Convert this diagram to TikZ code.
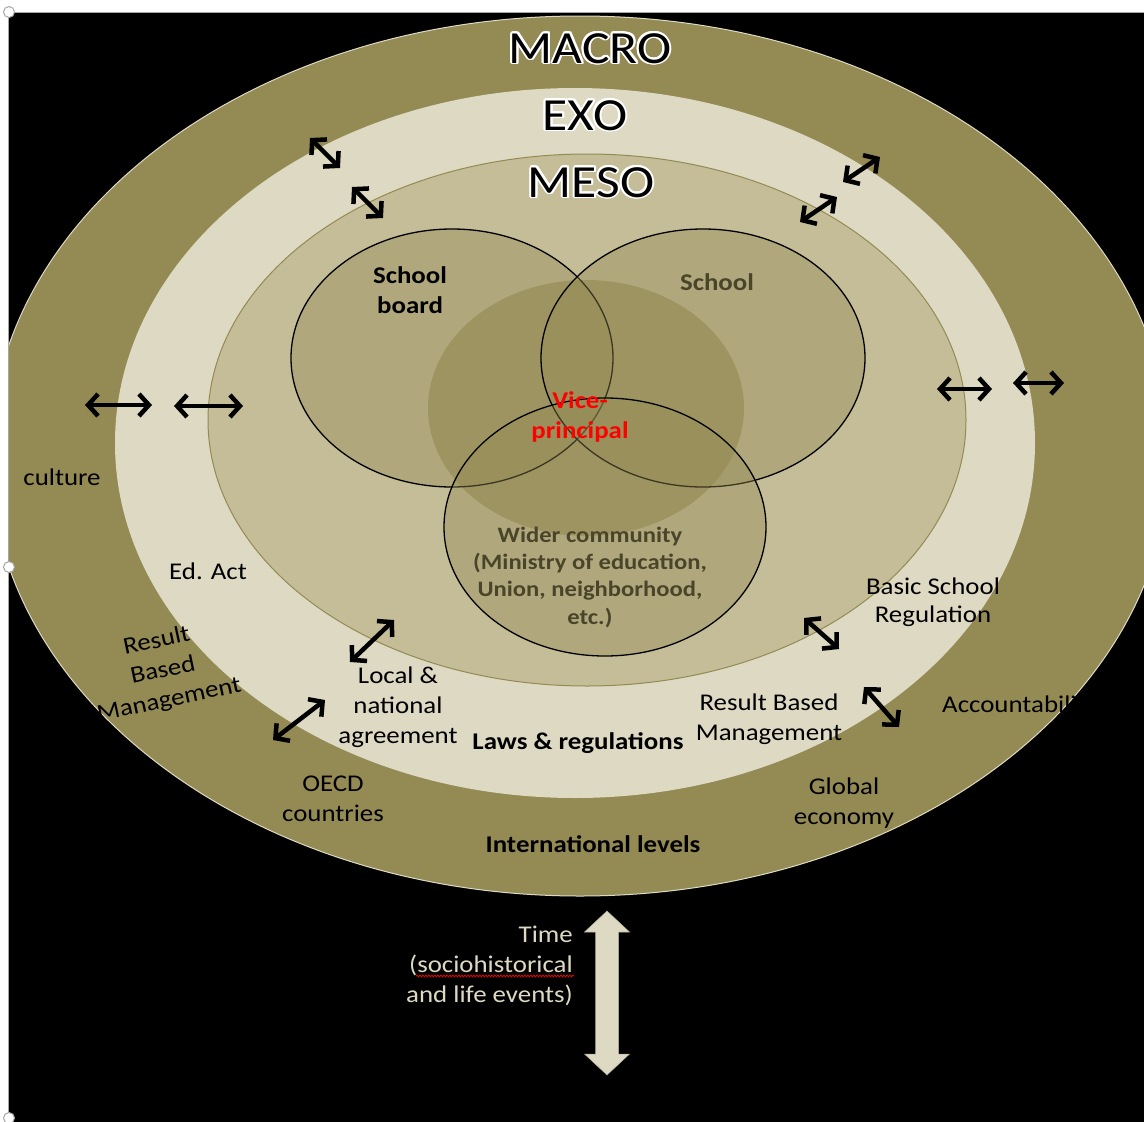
\documentclass[tikz,border=0pt]{standalone}
\usepackage{fontspec}
\setmainfont{Carlito}[FakeStretch=1.12]
\usetikzlibrary{arrows.meta,decorations.pathmorphing}

\definecolor{macroc}{HTML}{948A54}
\definecolor{exoc}{HTML}{DDD9C3}
\definecolor{mesoc}{HTML}{C4BD97}
\definecolor{discc}{HTML}{A59C6B}
\definecolor{mutedtext}{HTML}{4A452A}
\definecolor{vpred}{HTML}{FF0000}
\definecolor{framegray}{HTML}{A6A6A6}

% black letters with a white halo around them
\newcommand\halotext[1]{%
  \foreach \ang in {0,22.5,...,337.5}{%
    \pgfmathsetlengthmacro\hx{1.9pt*cos(\ang)}%
    \pgfmathsetlengthmacro\hy{1.9pt*sin(\ang)}%
    \rlap{\hspace*{\hx}\raisebox{\hy}{\textcolor{white}{#1}}}}%
  #1}

\begin{document}
\begin{tikzpicture}[x=1pt,y=-1pt,
  lbl/.style={font=\fontsize{24}{30}\selectfont, align=center, inner sep=0pt, anchor=base},
  boldlbl/.style={lbl, font=\fontsize{24}{30}\selectfont\bfseries},
  title/.style={font=\fontsize{46}{50}\selectfont, inner sep=0pt, anchor=base},
  link/.style={line width=4.5pt,
    {Straight Barb[length=10pt,width=22pt]}-{Straight Barb[length=10pt,width=22pt]}},
  venn/.style={fill=macroc, fill opacity=0.4, draw=black, draw opacity=1, line width=1.3pt},
]
\useasboundingbox (0,0) rectangle (1144,1122);
\fill[white] (0,0) rectangle (1144,1122);
\fill[black] (9,13) rectangle (1144,1122);

\begin{scope}
\clip (9,13) rectangle (1144,1122);

% system levels
\fill[macroc] (580,456) ellipse [x radius=590, y radius=440];
\draw[exoc, line width=1pt] (580,456) ellipse [x radius=590, y radius=440];
\fill[exoc] (575,443) ellipse [x radius=460, y radius=355];
\fill[mesoc] (587,420) ellipse [x radius=379, y radius=266];
\draw[macroc, line width=1pt] (587,420) ellipse [x radius=379, y radius=266];

% microsystem core and overlapping circles
\fill[discc] (586,408) ellipse [x radius=158, y radius=128];
\path[venn] (452,358) ellipse [x radius=161, y radius=129];
\path[venn] (703,358) ellipse [x radius=162, y radius=129];
\path[venn] (605,527) ellipse [x radius=161, y radius=129];

% level titles
\node[title] (macro) at (590,63) {\halotext{MACRO}};
\node[title] (exo) at (585,130) {\halotext{EXO}};
\node[title] (meso) at (591,197) {\halotext{MESO}};

% circle labels (base = baseline of the last line)
\node[boldlbl] (board) at (410,313) {School\\board};
\node[boldlbl, text=mutedtext] (school) at (717,290) {School};
\node[boldlbl, text=vpred] (vp) at (580,438) {Vice-\\principal};
\node[lbl, font=\fontsize{22}{27.3}\selectfont\bfseries, text=mutedtext] (wider) at (590,624)
  {Wider community\\(Ministry of education,\\Union, neighborhood,\\etc.)};

% ring labels
\node[lbl] (culture) at (62,485) {culture};
\node[lbl] (edact) at (208,579) {Ed. Act};
\node[lbl, anchor=center, rotate=12] (rbmleft) at (163,671) {Result\\Based\\Management};
\node[lbl] (local) at (398,743) {Local \&\\national\\agreement};
\node[boldlbl] (laws) at (578,749) {Laws \& regulations};
\node[lbl] (rbmright) at (769,740) {Result Based\\Management};
\node[lbl, font=\fontsize{24}{27.5}\selectfont] (basic) at (933,622) {Basic School\\Regulation};
\node[lbl, anchor=base west] (account) at (942,712) {Accountability};
\node[lbl] (oecd) at (333,821) {OECD\\countries};
\node[lbl] (global) at (844,824) {Global\\economy};
\node[boldlbl] (intl) at (593,852) {International levels};

% two-way influences between levels
\coordinate (a1s) at (310,138);  \coordinate (a1e) at (340,168);
\coordinate (a2s) at (352,187);  \coordinate (a2e) at (383,218);
\coordinate (a3s) at (880,157);  \coordinate (a3e) at (843,182);
\coordinate (a4s) at (837,197);  \coordinate (a4e) at (800,222);
\coordinate (a5s) at (85,405);   \coordinate (a5e) at (152,405);
\coordinate (a6s) at (174,406);  \coordinate (a6e) at (243,406);
\coordinate (a7s) at (937,389);  \coordinate (a7e) at (992,389);
\coordinate (a8s) at (1013,383); \coordinate (a8e) at (1064,383);
\coordinate (a9s) at (350,662);  \coordinate (a9e) at (394,620);
\coordinate (a10s) at (273,740); \coordinate (a10e) at (325,700);
\coordinate (a11s) at (804,618); \coordinate (a11e) at (839,649);
\coordinate (a12s) at (864,687); \coordinate (a12e) at (899,727);
\foreach \i in {1,...,12}
  \draw[link] (a\i s) -- (a\i e);

% time axis
\node[lbl, anchor=base east, align=right, text=exoc] (time) at (573,1002)
  {Time\\(sociohistorical\\and life events)};
\draw[vpred, line width=0.7pt, decorate,
  decoration={snake, amplitude=0.9pt, segment length=3pt}] (416,976) -- (574,976);
\coordinate (ttop) at (607,911);
\coordinate (tbot) at (607,1075);
\fill[exoc, draw=exoc!80!black, line width=0.5pt]
  (ttop) -- (629.5,932) -- (618.5,932) -- (618.5,1054) -- (629.5,1054) -- (tbot)
  -- (584.5,1054) -- (595.5,1054) -- (595.5,932) -- (584.5,932) -- cycle;
\end{scope}

% window frame and handles
\draw[framegray, line width=1.2pt] (8.5,1122) -- (8.5,12.5) -- (1144,12.5);
\foreach \hy in {12,567,1118}
  \draw[framegray, fill=white, line width=1pt] (9,\hy) circle [radius=5.5];
\end{tikzpicture}
\end{document}
